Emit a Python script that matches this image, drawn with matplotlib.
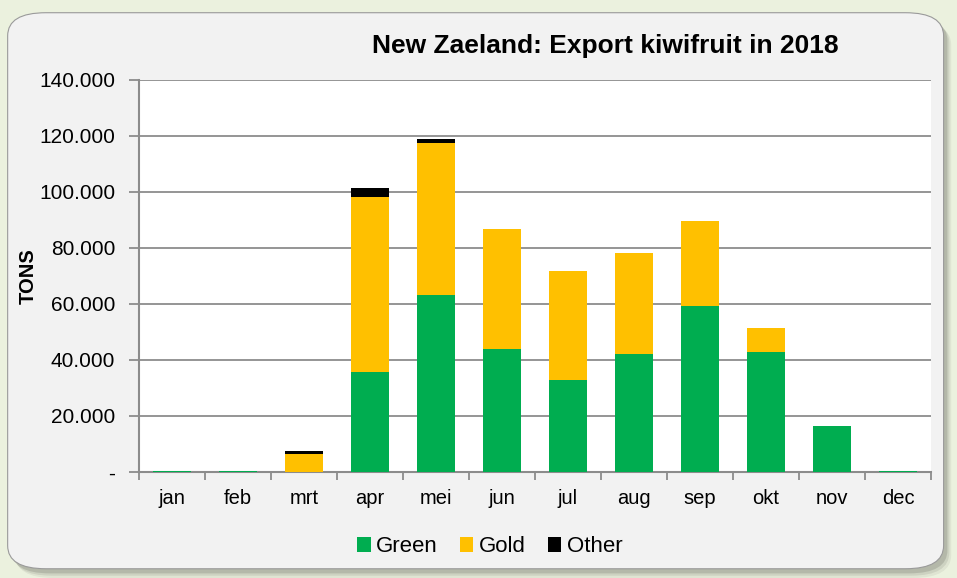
import numpy as np
import matplotlib
matplotlib.use('Agg')
import matplotlib.pyplot as plt
from matplotlib.patches import FancyBboxPatch
from matplotlib.ticker import FuncFormatter

plt.rcParams['font.family'] = ['Liberation Sans', 'DejaVu Sans']

months = ['jan', 'feb', 'mrt', 'apr', 'mei', 'jun', 'jul', 'aug', 'sep', 'okt', 'nov', 'dec']
green = [400, 400, 0, 35700, 63200, 43900, 32900, 42100, 59300, 42900, 16400, 400]
gold = [0, 0, 6600, 62500, 54300, 42900, 38900, 36100, 30300, 8500, 0, 0]
other = [0, 0, 1000, 3200, 1400, 0, 0, 0, 0, 0, 0, 0]

fig = plt.figure(figsize=(9.57, 5.78), dpi=100)
fig.patch.set_facecolor('#ebf1de')

# rounded chart panel with a soft shadow
for i, a in enumerate([0.05, 0.08, 0.12]):
    off = 0.004 * (3 - i)
    fig.patches.append(FancyBboxPatch((0.010 + off * 0.5, 0.012 - off), 0.978, 0.962,
                                      boxstyle='round,pad=0,rounding_size=0.04',
                                      transform=fig.transFigure, facecolor='black',
                                      alpha=a, edgecolor='none', zorder=0))
fig.patches.append(FancyBboxPatch((0.008, 0.016), 0.978, 0.962,
                                  boxstyle='round,pad=0,rounding_size=0.04',
                                  transform=fig.transFigure, facecolor='#f2f2f2',
                                  edgecolor='#9a9a9a', linewidth=0.8, zorder=0))

ax = fig.add_axes([0.1452, 0.1834, 0.8276, 0.6782])
ax.set_zorder(2)
ax.set_facecolor('white')

x = np.arange(len(months))
w = 0.58
g = np.array(green)
o = np.array(gold)
ax.bar(x, green, w, color='#00ad50', label='Green', zorder=3)
ax.bar(x, gold, w, bottom=g, color='#ffc000', label='Gold', zorder=3)
ax.bar(x, other, w, bottom=g + o, color='#000000', label='Other', zorder=3)

ax.set_xlim(-0.5, 11.5)
ax.set_ylim(0, 140000)
ax.set_yticks(np.arange(0, 140001, 20000))
ax.yaxis.set_major_formatter(FuncFormatter(lambda v, p: '-' if v == 0 else f'{int(v):,}'.replace(',', '.')))
ax.grid(axis='y', color='#8c8c8c', linewidth=1.3, zorder=1)
ax.set_axisbelow(True)

ax.set_xticks(x)
ax.set_xticklabels(months)
ax.set_xticks(np.arange(-0.5, 12, 1), minor=True)
ax.tick_params(axis='x', which='major', length=0, pad=12, labelsize=14.5)
ax.tick_params(axis='x', which='minor', length=6, color='#8c8c8c', width=1.3)
ax.tick_params(axis='y', length=7, color='#8c8c8c', width=1.3, labelsize=15, pad=10)

for s in ['top', 'right']:
    ax.spines[s].set_visible(False)
for s in ['left', 'bottom']:
    ax.spines[s].set_color('#8c8c8c')
    ax.spines[s].set_linewidth(1.5)

ax.set_ylabel('TONS', fontsize=14.5, fontweight='bold', labelpad=1)
fig.text(0.632, 0.921, 'New Zaeland: Export kiwifruit in 2018', ha='center', va='center',
         fontsize=19, fontweight='bold')

fig.legend(loc='center', bbox_to_anchor=(0.512, 0.054), ncol=3, frameon=False,
           fontsize=16, handlelength=0.6, handleheight=0.6, handletextpad=0.25,
           columnspacing=1.0)

fig.savefig('out.png', dpi=100, facecolor=fig.get_facecolor())
